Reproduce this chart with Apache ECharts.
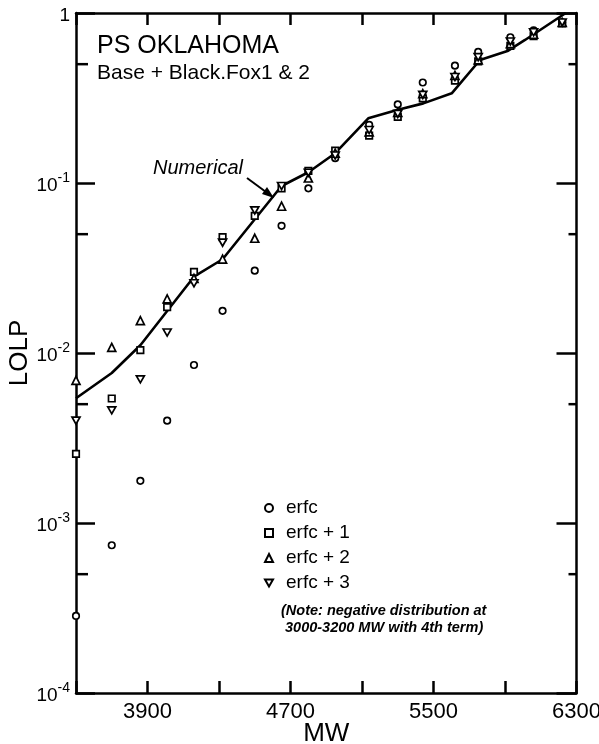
<!DOCTYPE html>
<html>
<head>
<meta charset="utf-8">
<script src="https://cdn.jsdelivr.net/npm/echarts@6/dist/echarts.min.js"></script>
<style>
html,body{margin:0;padding:0;background:#fff;}
#chart{width:599px;height:744px;}
</style>
</head>
<body>
<div id="chart"></div>
<script>
// ---- data ----
const mw = [3500, 3700, 3860, 4010, 4160, 4320, 4500, 4650, 4800, 4950, 5140, 5300, 5440, 5620, 5750, 5930, 6060, 6220];
const erfc  = [2.84e-4, 7.4e-4, 1.77e-3, 4.0e-3, 8.5e-3, 1.77e-2, 3.05e-2, 5.6e-2, 9.3e-2, 0.14, 0.22, 0.29, 0.39, 0.49, 0.59, 0.72, 0.79, 0.88];
const erfc1 = [2.55e-3, 5.4e-3, 1.04e-2, 1.86e-2, 3.0e-2, 4.8e-2, 6.4e-2, 9.3e-2, 0.118, 0.155, 0.19, 0.245, 0.315, 0.40, 0.52, 0.64, 0.73, 0.87];
const erfc2 = [6.9e-3, 1.08e-2, 1.55e-2, 2.08e-2, 2.75e-2, 3.57e-2, 4.73e-2, 7.3e-2, 0.107, 0.15, 0.20, 0.26, 0.335, 0.43, 0.53, 0.66, 0.75, 0.88];
const erfc3 = [4.0e-3, 4.6e-3, 7.0e-3, 1.32e-2, 2.57e-2, 4.46e-2, 6.9e-2, 9.6e-2, 0.115, 0.145, 0.205, 0.255, 0.33, 0.42, 0.55, 0.68, 0.77, 0.88];
const numMW   = [3500, 3700, 3860, 4160, 4320, 4650, 4800, 4950, 5135, 5296, 5443, 5602, 5760, 5918, 6012, 6240];
const numLOLP = [5.42e-3, 7.63e-3, 1.11e-2, 2.81e-2, 3.56e-2, 9.6e-2, 0.1157, 0.1497, 0.240, 0.269, 0.294, 0.337, 0.529, 0.600, 0.694, 1.0];
const xTickLabels = ['3900', '4700', '5500', '6300'];
const minorTickVals = [5e-4, 5e-3, 5e-2, 0.5];
const seriesNames = ['erfc', 'erfc + 1', 'erfc + 2', 'erfc + 3'];

const FONT = '"Liberation Sans", Arial, sans-serif';
const pairs = (xs, ys) => xs.map((x, i) => [x, ys[i]]);
const INV_TRIANGLE = 'path://M0,0 L10,0 L5,8.66 Z';

const chart = echarts.init(document.getElementById('chart'), null, {renderer: 'canvas'});

const axisLine = {show: true, lineStyle: {color: '#000', width: 2.5}};
const xBase = {
  type: 'value', min: 3500, max: 6300, interval: 400,
  axisLine: axisLine, splitLine: {show: false},
  axisTick: {inside: true, length: 12, lineStyle: {color: '#000', width: 2.5}}
};
const yBase = {
  type: 'log', logBase: 10, min: 1e-4, max: 1,
  axisLine: axisLine, splitLine: {show: false}, minorTick: {show: false}
};

function markerSeries(name, vals, symbol, size) {
  return {
    name: name, type: 'scatter', data: pairs(mw, vals),
    symbol: symbol, symbolSize: size,
    itemStyle: {color: '#fff', borderColor: '#000', borderWidth: 1.7, opacity: 1},
    z: 5, silent: true
  };
}

const option = {
  backgroundColor: '#fff',
  animation: false,
  grid: {left: 76, right: 22.5, top: 13, bottom: 51, containLabel: false, outerBoundsMode: 'none'},
  xAxis: [
    Object.assign({}, xBase, {
      position: 'bottom',
      axisLabel: {
        color: '#000', fontSize: 22, fontFamily: FONT, margin: 8,
        formatter: v => xTickLabels.indexOf(String(v)) >= 0 ? String(v) : ''
      },
      name: 'MW', nameLocation: 'middle', nameGap: 28, nameMoveOverlap: false,
      nameTextStyle: {color: '#000', fontSize: 26, fontFamily: FONT}
    }),
    Object.assign({}, xBase, {position: 'top', axisLabel: {show: false}})
  ],
  yAxis: [
    Object.assign({}, yBase, {
      position: 'left',
      axisTick: {inside: true, length: 19, lineStyle: {color: '#000', width: 2.5}},
      axisLabel: {
        color: '#000', margin: 6, fontFamily: FONT,
        formatter: v => {
          const e = Math.round(Math.log10(v));
          if (e === 0) return '{b|1}';
          return '{b|10}{s|' + e + '}';
        },
        rich: {
          b: {fontSize: 19, fontFamily: FONT, color: '#000', lineHeight: 24, verticalAlign: 'bottom'},
          s: {fontSize: 14, fontFamily: FONT, color: '#000', lineHeight: 24, verticalAlign: 'top'}
        }
      },
      name: 'LOLP', nameLocation: 'middle', nameGap: 43, nameMoveOverlap: false,
      nameTextStyle: {color: '#000', fontSize: 26, fontFamily: FONT}
    }),
    Object.assign({}, yBase, {
      position: 'right',
      axisTick: {inside: true, length: 20, lineStyle: {color: '#000', width: 2.5}},
      axisLabel: {show: false}
    })
  ],
  legend: {
    data: seriesNames,
    orient: 'vertical', left: 259, top: 493,
    itemWidth: 8, itemHeight: 8, itemGap: 5,
    textStyle: {color: '#000', fontSize: 19, fontFamily: FONT, padding: [0, 0, 0, 8], lineHeight: 20},
    selectedMode: false
  },
  series: [
    {
      name: 'Numerical', type: 'line', data: pairs(numMW, numLOLP),
      symbol: 'none', lineStyle: {color: '#000', width: 2.6}, z: 2, silent: true
    },
    markerSeries('erfc', erfc, 'circle', 6.5),
    markerSeries('erfc + 1', erfc1, 'rect', 6.5),
    markerSeries('erfc + 2', erfc2, 'triangle', 8),
    markerSeries('erfc + 3', erfc3, INV_TRIANGLE, [8, 7]),
    {
      type: 'custom', silent: true, z: 6, clip: false,
      data: minorTickVals.map(v => [3500, v]),
      renderItem: function (params, api) {
        const v = api.value(1);
        const p = api.coord([3500, v]);
        const q = api.coord([6300, v]);
        const st = {stroke: '#000', lineWidth: 2.5};
        return {type: 'group', children: [
          {type: 'line', shape: {x1: p[0], y1: p[1], x2: p[0] + 12, y2: p[1]}, style: st},
          {type: 'line', shape: {x1: q[0], y1: q[1], x2: q[0] - 8, y2: q[1]}, style: st}
        ]};
      }
    }
  ],
  graphic: [
    {type: 'text', x: 97, y: 46, style: {text: 'PS OKLAHOMA', font: '25px ' + FONT, fill: '#000', verticalAlign: 'middle'}},
    {type: 'text', x: 97, y: 73, style: {text: 'Base + Black.Fox1 & 2', font: '21px ' + FONT, fill: '#000', verticalAlign: 'middle'}},
    {type: 'text', x: 153, y: 168, style: {text: 'Numerical', font: 'italic 20px ' + FONT, fill: '#000', verticalAlign: 'middle'}},
    {type: 'line', shape: {x1: 247, y1: 178, x2: 266, y2: 192}, style: {stroke: '#000', lineWidth: 2}},
    {type: 'polygon', shape: {points: [[274, 198], [262, 194], [267, 187]]}, style: {fill: '#000'}},
    {type: 'text', x: 281, y: 611, style: {text: '(Note: negative distribution at', font: 'italic bold 14.5px ' + FONT, fill: '#000', verticalAlign: 'middle'}},
    {type: 'text', x: 285, y: 628, style: {text: '3000-3200 MW with 4th term)', font: 'italic bold 14.5px ' + FONT, fill: '#000', verticalAlign: 'middle'}}
  ]
};
chart.setOption(option);
</script>
</body>
</html>
